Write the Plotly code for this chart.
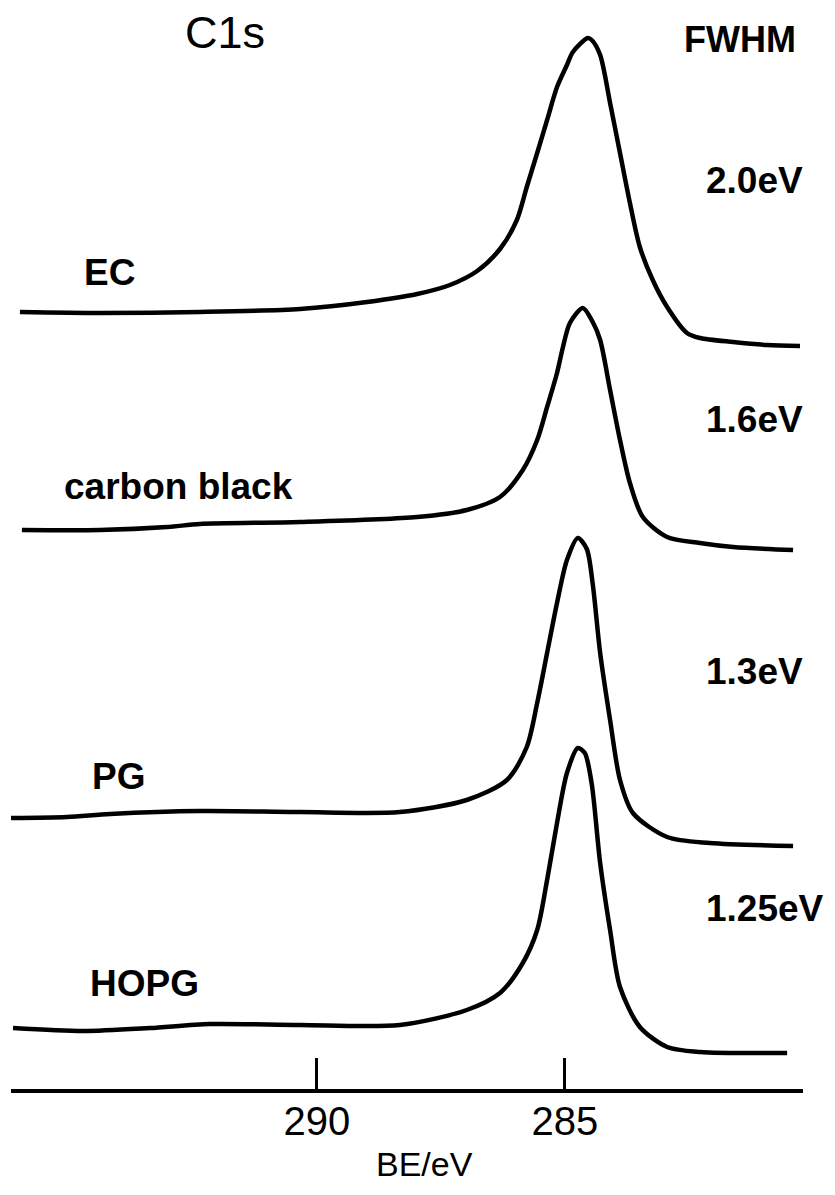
import plotly.graph_objects as go

# ---- data (binding energy in eV, intensity in a.u., stacked) ----
ec_be = [295.99, 294.38, 292.36, 290.34, 288.99, 287.98, 287.32, 286.77, 286.31, 285.97, 285.77,
         285.56, 285.36, 285.16, 284.96, 284.84, 284.54, 284.46, 284.29, 284.09, 283.89, 283.69,
         283.49, 283.23, 282.94, 282.54, 282.28, 281.61, 280.93, 280.26]
ec_int = [777, 776, 777, 780, 787, 795, 804, 818, 840, 869, 902,
          936, 969, 1002, 1024, 1037, 1051, 1049, 1034, 986, 936, 886,
          842, 809, 782, 756, 751, 747, 744, 743]

cb_be = [295.95, 294.38, 293.02, 292.36, 290.34, 287.98, 286.98, 286.31, 285.85, 285.56, 285.36,
         285.16, 285.04, 284.90, 284.64, 284.44, 284.29, 284.09, 283.89, 283.69, 283.43, 282.94,
         282.28, 281.61, 280.40]
cb_int = [559, 559, 562, 565, 567, 572, 579, 592, 619, 649, 682,
          716, 742, 766, 781, 767, 749, 699, 649, 606, 572, 552,
          546, 542, 539]

pg_be = [296.19, 295.04, 294.17, 292.36, 290.34, 288.33, 286.98, 286.17, 285.77, 285.56, 285.36,
         285.16, 284.96, 284.74, 284.56, 284.44, 284.29, 284.09, 283.89, 283.63, 282.94, 282.08,
         280.40]
pg_int = [271, 272, 275, 278, 277, 277, 289, 309, 342, 386, 436,
          486, 529, 551, 540, 505, 436, 369, 309, 276, 252, 246,
          243]

hopg_be = [296.13, 294.72, 293.37, 292.16, 290.34, 288.33, 286.98, 286.31, 285.85, 285.56, 285.36,
           285.16, 284.96, 284.74, 284.60, 284.46, 284.29, 284.09, 283.89, 283.49, 282.94, 282.28,
           280.52]
hopg_int = [61, 58, 61, 65, 64, 64, 79, 96, 126, 159, 209,
            266, 316, 341, 336, 305, 226, 159, 102, 62, 42, 37,
            36]

sample_names = ["EC", "carbon black", "PG", "HOPG"]
fwhm_labels = ["2.0eV", "1.6eV", "1.3eV", "1.25eV"]
tick_vals = [290, 285]
tick_text = ["290", "285"]
x_title = "BE/eV"

# ---- figure ----
# the page body adds an 8 px margin, so the figure is laid out in page coordinates minus 8
OX, OY = 8, 8
W, H = 835 - OX, 1195 - OY
PLOT_L, PLOT_R, PLOT_T, PLOT_B = 11, 803, 8, 1089      # plot area in page pixels
ML, MR, MT, MB = PLOT_L - OX, W - (PLOT_R - OX), PLOT_T - OY, H - (PLOT_B - OY)
FONT = "Liberation Sans, Arial, Helvetica, sans-serif"

fig = go.Figure()
for be, inten in [(ec_be, ec_int), (cb_be, cb_int), (pg_be, pg_int), (hopg_be, hopg_int)]:
    fig.add_trace(go.Scatter(x=be, y=inten, mode="lines",
                             line=dict(color="black", width=4.5, shape="spline", smoothing=0.8),
                             showlegend=False, hoverinfo="skip"))


def px(xp):
    return (xp - PLOT_L) / (PLOT_R - PLOT_L)


def py(yp):
    return (PLOT_B - yp) / (PLOT_B - PLOT_T)


annots = []


def add_text(text, x, y, size, xanchor="left", bold=False):
    annots.append(dict(text=f"<b>{text}</b>" if bold else text, x=px(x), y=py(y),
                       xref="paper", yref="paper",
                       xanchor=xanchor, yanchor="middle", showarrow=False,
                       font=dict(family=FONT, size=size, color="black")))


add_text("C1s", 225, 32, 45, xanchor="center")
add_text("FWHM", 682, 40, 36, bold=True)
for lab, yy in zip(fwhm_labels, [180, 419, 672, 908]):
    add_text(lab, 704, yy, 37, bold=True)
for name, xx, yy in zip(sample_names, [82, 62, 90, 88], [272, 486, 776, 983]):
    add_text(name, xx, yy, 37, bold=True)
add_text(x_title, 424, 1164, 34, xanchor="center")

fig.update_layout(
    width=W, height=H,
    margin=dict(l=ML, r=MR, t=MT, b=MB, pad=0),
    paper_bgcolor="white", plot_bgcolor="white",
    annotations=annots,
    xaxis=dict(range=[296.17, 280.20], showgrid=False, zeroline=False,
               showline=True, linecolor="black", linewidth=4,
               ticks="inside", ticklen=31, tickwidth=3, tickcolor="black",
               tickvals=tick_vals, ticktext=tick_text, ticklabelstandoff=-6,
               tickfont=dict(family=FONT, size=40, color="black")),
    yaxis=dict(range=[0, PLOT_B - PLOT_T], visible=False, showgrid=False, zeroline=False),
)

fig.write_html("out.html")
